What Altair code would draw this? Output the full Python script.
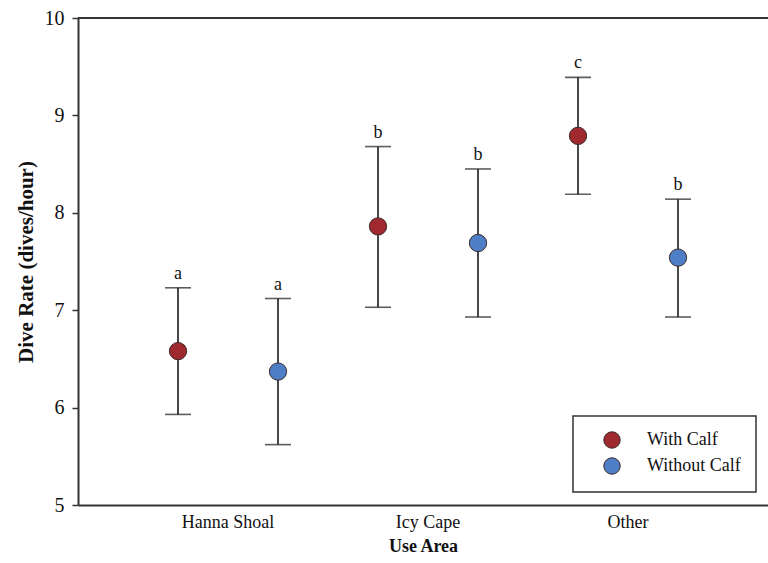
import altair as alt
import pandas as pd

areas = ["Hanna Shoal", "Icy Cape", "Other"]
groups = ["With Calf", "Without Calf"]

with_mean = [6.58, 7.86, 8.79]
with_lo = [5.93, 7.03, 8.19]
with_hi = [7.23, 8.68, 9.39]
with_letter = ["a", "b", "c"]

without_mean = [6.37, 7.69, 7.54]
without_lo = [5.62, 6.93, 6.93]
without_hi = [7.12, 8.45, 8.14]
without_letter = ["a", "b", "b"]

colors = ["#a0282f", "#4d7ec6"]

rows = []
for i, a in enumerate(areas):
    rows.append(dict(area=a, group=groups[0], mean=with_mean[i], lo=with_lo[i], hi=with_hi[i], letter=with_letter[i]))
    rows.append(dict(area=a, group=groups[1], mean=without_mean[i], lo=without_lo[i], hi=without_hi[i], letter=without_letter[i]))
df = pd.DataFrame(rows)

FONT = "Liberation Serif"

x = alt.X("area:N", sort=areas,
          scale=alt.Scale(paddingInner=0, paddingOuter=0.225, align=0.5556),
          axis=alt.Axis(title="Use Area", labelAngle=0, ticks=False, labelPadding=8,
                        labelFontSize=18, titleFontSize=18, titleFontWeight="bold",
                        titlePadding=6, domainWidth=2, domainColor="#333",
                        labelFont=FONT, titleFont=FONT, labelColor="#111", titleColor="#111"))
xo = alt.XOffset("group:N", sort=groups, scale=alt.Scale(paddingInner=0, paddingOuter=0))
yscale = alt.Scale(domain=[5, 10], nice=False, zero=False)

base = alt.Chart(df)

rule = base.mark_rule(color="#1a1a1a", strokeWidth=1.6).encode(
    x=x, xOffset=xo,
    y=alt.Y("lo:Q", scale=yscale,
            axis=alt.Axis(title="Dive Rate (dives/hour)", values=[5, 6, 7, 8, 9, 10], format="d",
                          grid=False, tickSize=6, labelPadding=8, labelFontSize=20,
                          titleFontSize=21, titleFontWeight="bold", titlePadding=8,
                          domainWidth=2, domainColor="#333", tickColor="#333", tickWidth=1.5,
                          labelFont=FONT, titleFont=FONT, labelColor="#111", titleColor="#111")),
    y2="hi:Q")

cap_hi = base.mark_tick(color="#1a1a1a", size=26, thickness=1.6).encode(
    x=x, xOffset=xo, y=alt.Y("hi:Q", scale=yscale))
cap_lo = base.mark_tick(color="#1a1a1a", size=26, thickness=1.6).encode(
    x=x, xOffset=xo, y=alt.Y("lo:Q", scale=yscale))

pts = base.mark_circle(size=300, opacity=1, stroke="#3a2a2a", strokeWidth=1).encode(
    x=x, xOffset=xo, y=alt.Y("mean:Q", scale=yscale),
    color=alt.Color("group:N", sort=groups, scale=alt.Scale(domain=groups, range=colors),
                    legend=alt.Legend(title=None, orient="none", legendX=495, legendY=398,
                                      strokeColor="#333", padding=15,
                                      symbolOffset=15, symbolSize=270, symbolType="circle",
                                      symbolStrokeColor="#3a2a2a", symbolStrokeWidth=1,
                                      labelFontSize=18, labelOffset=26, rowPadding=4,
                                      labelFont=FONT, labelColor="#111")))

letters = base.mark_text(fontSize=18, baseline="bottom", dy=-5, font=FONT, color="#111").encode(
    x=x, xOffset=xo, y=alt.Y("hi:Q", scale=yscale), text="letter:N")

top = alt.Chart(df).mark_rule(color="#333", strokeWidth=2).encode(y=alt.datum(10))

chart = alt.layer(top, rule, cap_hi, cap_lo, pts, letters).properties(
    width=690, height=487,
    autosize=alt.AutoSizeParams(type="none"),
    padding={"left": 78, "top": 18, "right": 0, "bottom": 58},
).configure(background="white").configure_view(stroke=None).configure_legend(strokeWidth=1.5)

chart.save("out.html", embed_options={"renderer": "svg", "actions": False})
